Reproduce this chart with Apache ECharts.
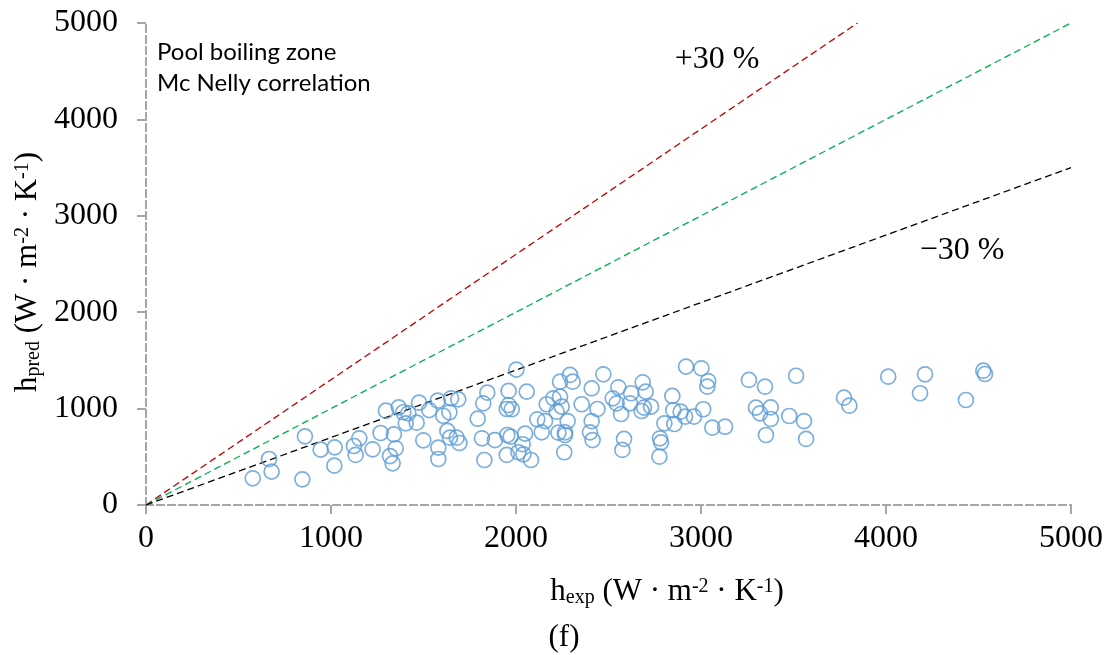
<!DOCTYPE html>
<html>
<head>
<meta charset="utf-8">
<script src="https://cdn.jsdelivr.net/npm/echarts@6/dist/echarts.min.js"></script>
<style>html,body{margin:0;padding:0;background:#fff;}#c{width:1110px;height:655px;}</style>
</head>
<body>
<div id="c"></div>
<script>
// Experimental h (x) and predicted h (y), W·m-2·K-1
const hExp = [577,679,665,845,859,944,1020,1018,1124,1153,1133,1225,1268,1297,1340,1366,1319,1333,1350,2002,
1391,1418,1404,1463,1476,1531,1577,1649,1688,1607,1640,1499,1580,1580,1629,1643,1679,1694,1845,1823,
1793,1960,2058,1959,1950,1977,1816,1886,1953,1971,2049,2036,1950,2013,2040,2081,1829,2115,2139,2157,
2166,2202,2220,2229,2238,2919,3002,3039,3034,2292,2306,2472,2409,2238,2247,2355,2440,2279,2409,2265,
2265,2400,2414,2261,2553,2523,2544,2622,2616,2568,2685,2701,2679,2692,2730,2584,2575,2845,2850,2890,
2914,2962,3012,2856,2802,2778,2784,2775,3061,3259,3346,3514,3297,3319,3377,3377,3477,3557,3351,3568,
3130,3773,3802,4012,4211,4184,4432,4526,4535];
const hPred = [277,346,477,266,712,574,598,408,612,692,519,578,747,978,733,1013,508,432,588,1404,
962,951,847,854,1061,985,1082,1107,1096,926,962,671,595,477,768,698,698,643,1165,1055,
895,1183,1176,1037,996,993,692,674,726,709,740,630,519,547,526,467,467,889,754,871,
1045,1107,968,750,1279,1435,1418,1286,1227,1349,1279,1356,1210,1124,1020,1045,996,871,871,754,
726,754,674,547,1221,1107,1055,1159,1055,944,1273,1176,975,1010,1020,685,571,1131,985,968,
916,916,993,840,847,692,650,501,802,1297,1227,1341,1010,951,1013,892,923,871,726,685,
812,1113,1030,1331,1356,1159,1089,1393,1359];
// Reference lines: +30 %, perfect agreement, -30 %
const linePlus30 = [[0,0],[3846,5000]];
const lineEqual = [[0,0],[5000,5000]];
const lineMinus30 = [[0,0],[5000,3500]];
const xTicks = [0,1000,2000,3000,4000,5000];
const yTicks = [0,1000,2000,3000,4000,5000];

const points = hExp.map((x,i)=>[x,hPred[i]]);
const serif = 'Liberation Serif';
const borderLine = {show:true, lineStyle:{color:'#a6a6a6', width:2, type:[7,4]}};
const rich = {
  a:{fontFamily:serif, fontSize:31, lineHeight:31, color:'#000'},
  b:{fontFamily:serif, fontSize:20, lineHeight:6, verticalAlign:'bottom', color:'#000'},
  c:{fontFamily:serif, fontSize:20, lineHeight:22, verticalAlign:'top', color:'#000'}
};
const chart = echarts.init(document.getElementById('c'));
chart.setOption({
  animation:false,
  backgroundColor:'#fff',
  grid:{left:146, right:39, top:23, bottom:150},
  xAxis:[{
    type:'value', min:0, max:5000, interval:1000,
    axisLine:borderLine,
    axisTick:{show:true, length:9, lineStyle:{color:'#a6a6a6', width:2}},
    splitLine:{show:false},
    axisLabel:{fontFamily:serif, fontSize:32, color:'#000', margin:18,
      formatter:v=>xTicks.includes(v)?String(v):''}
  },{
    type:'value', position:'top', min:0, max:5000,
    axisLine:borderLine, axisTick:{show:false}, axisLabel:{show:false}, splitLine:{show:false}
  }],
  yAxis:[{
    type:'value', min:0, max:5000, interval:1000,
    axisLine:borderLine,
    axisTick:{show:true, length:9, lineStyle:{color:'#a6a6a6', width:2}},
    splitLine:{show:false},
    axisLabel:{fontFamily:serif, fontSize:32, color:'#000', margin:28,
      formatter:v=>yTicks.includes(v)?String(v):''}
  },{
    type:'value', position:'right', min:0, max:5000,
    axisLine:borderLine, axisTick:{show:false}, axisLabel:{show:false}, splitLine:{show:false}
  }],
  series:[
    {type:'line', data:linePlus30, symbol:'none', lineStyle:{color:'#c00000', width:1.3, type:[7,4]}, z:2},
    {type:'line', data:lineEqual, symbol:'none', lineStyle:{color:'#00b050', width:1.3, type:[7,4]}, z:2},
    {type:'line', data:lineMinus30, symbol:'none', lineStyle:{color:'#000', width:1.3, type:[7,4]}, z:2},
    {type:'scatter', data:points, symbol:'circle', symbolSize:15,
      itemStyle:{color:'rgba(255,255,255,0)', borderColor:'#5b9bd5', borderWidth:1.7}, z:3}
  ],
  graphic:[
    {type:'text', left:157, top:37, style:{text:'Pool boiling zone\nMc Nelly correlation', font:'24px Lato', lineHeight:31, fill:'#000'}},
    {type:'text', x:717, y:60, style:{text:'+30 %', font:'32px "Liberation Serif"', fill:'#000', align:'center', verticalAlign:'middle'}},
    {type:'text', x:962, y:251, style:{text:'\u221230 %', font:'32px "Liberation Serif"', fill:'#000', align:'center', verticalAlign:'middle'}},
    {type:'text', x:667, y:592, style:{text:'{a|h}{b|exp}{a| (W · m}{c|-2}{a| · K}{c|-1}{a|)}', rich:rich, align:'center', verticalAlign:'middle'}},
    {type:'text', x:564, y:638, style:{text:'(f)', font:'31px "Liberation Serif"', fill:'#000', align:'center', verticalAlign:'middle'}},
    {type:'text', x:28, y:272, rotation:Math.PI/2, style:{text:'{a|h}{b|pred}{a| (W · m}{c|-2}{a| · K}{c|-1}{a|)}', rich:rich, align:'center', verticalAlign:'middle'}}
  ]
});
</script>
</body>
</html>
